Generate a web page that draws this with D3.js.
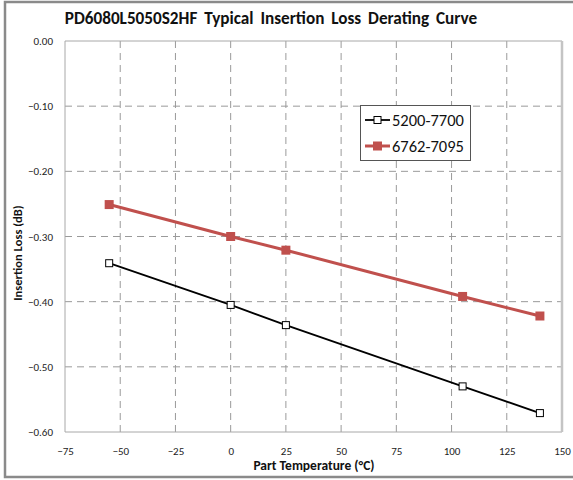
<!DOCTYPE html>
<html><head><meta charset="utf-8">
<script src="https://cdn.jsdelivr.net/npm/d3@7"></script>
<style>
body{margin:0;background:#fff;}
svg{display:block;}
</style></head>
<body>
<svg id="c" width="573" height="480"></svg>
<script>
const temps = [-55, 0, 25, 105, 140];
const seriesNames = ["5200-7700", "6762-7095"];
const loss5200 = [-0.341, -0.405, -0.436, -0.530, -0.571];
const loss6762 = [-0.251, -0.300, -0.321, -0.392, -0.422];
const xTicks = [-75, -50, -25, 0, 25, 50, 75, 100, 125, 150];
const yTicks = [0, -0.1, -0.2, -0.3, -0.4, -0.5, -0.6];
const title = "PD6080L5050S2HF Typical Insertion Loss Derating Curve";
const xTitle = "Part Temperature (°C)";
const yTitle = "Insertion Loss (dB)";

const svg = d3.select("#c");
const L = 65, R = 562, T = 41, B = 432;
const x = d3.scaleLinear().domain([-75, 150]).range([L, R]);
const y = d3.scaleLinear().domain([-0.6, 0]).range([B, T]);
const font = "Calibri, Carlito, 'Open Sans', 'Liberation Sans', sans-serif";

// outer frame
svg.append("path").attr("d","M573,2 L5,2 L5,477 L573,477")
  .attr("fill","none").attr("stroke","#8a8a8a").attr("stroke-width",2.5);

// grid
const g = svg.append("g");
g.selectAll(".gx").data(xTicks.slice(1, -1)).join("line")
  .attr("x1", d => x(d)).attr("x2", d => x(d)).attr("y1", T).attr("y2", B)
  .attr("stroke", "#9a9a9a").attr("stroke-width", 1).attr("stroke-dasharray", "7,5");
g.selectAll(".gy").data(yTicks.slice(1, -1)).join("line")
  .attr("y1", d => y(d)).attr("y2", d => y(d)).attr("x1", L).attr("x2", R)
  .attr("stroke", "#9a9a9a").attr("stroke-width", 1).attr("stroke-dasharray", "7,5");

// plot border
svg.append("line").attr("x1",L).attr("x2",R).attr("y1",T).attr("y2",T).attr("stroke","#a8a8a8");
svg.append("line").attr("x1",L).attr("x2",R).attr("y1",B).attr("y2",B).attr("stroke","#a8a8a8");
svg.append("line").attr("x1",L).attr("x2",L).attr("y1",T).attr("y2",B).attr("stroke","#a8a8a8");
svg.append("line").attr("x1",R).attr("x2",R).attr("y1",T).attr("y2",B).attr("stroke","#c4c4c4").attr("stroke-width",2.5);

// axes (labels only)
const xAxis = svg.append("g").attr("transform", `translate(0,${B})`)
  .call(d3.axisBottom(x).tickValues(xTicks).tickSize(0).tickPadding(15).tickFormat(d3.format("d")));
const yAxis = svg.append("g").attr("transform", `translate(${L},0)`)
  .call(d3.axisLeft(y).tickValues(yTicks).tickSize(0).tickPadding(12).tickFormat(d3.format(".2f")));
[xAxis, yAxis].forEach(a => {
  a.select(".domain").remove();
  a.selectAll("text").attr("font-family", font).attr("font-size", 11).attr("fill", "#222");
});

// titles
svg.append("text").attr("x", 271).attr("y", 24).attr("text-anchor","middle")
  .attr("font-family", font).attr("font-weight","bold").attr("font-size", 17.2).attr("fill","#111")
  .attr("word-spacing", 3).text(title);
svg.append("text").attr("x", 314).attr("y", 470).attr("text-anchor","middle")
  .attr("font-family", font).attr("font-weight","bold").attr("font-size", 13.5).attr("fill","#111").text(xTitle);
svg.append("text").attr("transform", `translate(22,253) rotate(-90)`).attr("text-anchor","middle")
  .attr("font-family", font).attr("font-weight","bold").attr("font-size", 12.5).attr("fill","#111").text(yTitle);

// series
const line = d3.line().x(d => x(d[0])).y(d => y(d[1]));
const s1 = temps.map((t, i) => [t, loss5200[i]]);
const s2 = temps.map((t, i) => [t, loss6762[i]]);

svg.append("path").datum(s1).attr("d", line).attr("fill","none").attr("stroke","#000").attr("stroke-width",1.8);
svg.selectAll(".m1").data(s1).join("rect")
  .attr("x", d => x(d[0]) - 3.5).attr("y", d => y(d[1]) - 3.5).attr("width", 7).attr("height", 7)
  .attr("fill","#fff").attr("stroke","#000").attr("stroke-width",1);

svg.append("path").datum(s2).attr("d", line).attr("fill","none").attr("stroke","#c0504d").attr("stroke-width",3);
svg.selectAll(".m2").data(s2).join("rect")
  .attr("x", d => x(d[0]) - 4.5).attr("y", d => y(d[1]) - 4.5).attr("width", 9).attr("height", 9)
  .attr("fill","#c0504d");

// legend
const lg = svg.append("g");
lg.append("rect").attr("x", 360.5).attr("y", 105.5).attr("width", 110).attr("height", 55)
  .attr("fill","#fff").attr("stroke","#555").attr("stroke-width",1);
const items = [
  {name: seriesNames[0], color: "#000", w: 1.8, ms: 7, fill: "#fff", yy: 120},
  {name: seriesNames[1], color: "#c0504d", w: 3, ms: 9, fill: "#c0504d", yy: 146}
];
items.forEach(it => {
  lg.append("line").attr("x1", 365).attr("x2", 390).attr("y1", it.yy).attr("y2", it.yy)
    .attr("stroke", it.color).attr("stroke-width", it.w);
  lg.append("rect").attr("x", 377.5 - it.ms/2).attr("y", it.yy - it.ms/2).attr("width", it.ms).attr("height", it.ms)
    .attr("fill", it.fill).attr("stroke", it.fill === "#fff" ? "#000" : "none");
  lg.append("text").attr("x", 392).attr("y", it.yy + 5.5).attr("font-family", font).attr("font-size", 16.5)
    .attr("fill","#111").text(it.name);
});
</script>
</body></html>
